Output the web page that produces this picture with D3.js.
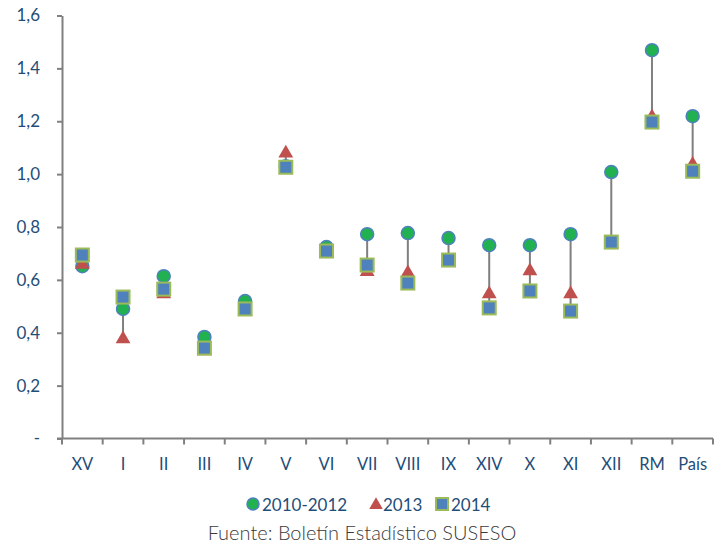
<!DOCTYPE html>
<meta charset="utf-8">
<body style="margin:0;background:#fff">
<script src="https://d3js.org/d3.v7.min.js"></script>
<style>
  body { font-family: Lato, "Open Sans", sans-serif; }
  .axis path, .axis line { stroke: #808080; stroke-width: 2; }
</style>
<div id="chart"></div>
<script>
// data
var regions = ["XV","I","II","III","IV","V","VI","VII","VIII","IX","XIV","X","XI","XII","RM","País"];
var s2010 = [0.652, 0.490, 0.614, 0.384, 0.520, 1.030, 0.724, 0.773, 0.777, 0.758, 0.731, 0.731, 0.773, 1.008, 1.469, 1.219];
var s2013 = [0.662, 0.380, 0.550, 0.335, 0.485, 1.083, 0.710, 0.635, 0.630, 0.675, 0.550, 0.637, 0.550, 0.740, 1.220, 1.040];
var s2014 = [0.694, 0.535, 0.565, 0.342, 0.490, 1.026, 0.709, 0.656, 0.588, 0.675, 0.494, 0.558, 0.482, 0.743, 1.197, 1.011];
var yTicks = [0, 0.2, 0.4, 0.6, 0.8, 1.0, 1.2, 1.4, 1.6];

var W = 722, H = 547;
var margin = {top: 15.5, left: 62, right: 9, bottom: 108.5};
var width = W - margin.left - margin.right,
    height = H - margin.top - margin.bottom;

var svg = d3.select("#chart").append("svg")
    .attr("width", W).attr("height", H)
  .append("g")
    .attr("transform", "translate(" + margin.left + "," + margin.top + ")");

var x = d3.scaleBand().domain(regions).range([0, width]);
var y = d3.scaleLinear().domain([0, 1.6]).range([height, 0]);

var fmt = function(d) { return d === 0 ? "-" : d3.format(".1f")(d).replace(".", ","); };

// y axis
var yAx = svg.append("g").attr("class", "axis")
    .call(d3.axisLeft(y).tickValues(yTicks).tickFormat(fmt).tickSize(5).tickSizeOuter(0));
yAx.selectAll(".tick text")
    .attr("x", -22)
    .attr("fill", "#1f4e79")
    .style("font-family", "Lato, sans-serif")
    .style("font-size", "17px")
    .style("text-anchor", "end");

// x axis with ticks between categories
var xAx = svg.append("g").attr("class", "axis")
    .attr("transform", "translate(0," + height + ")");
xAx.append("line").attr("x1", -5).attr("x2", width).attr("y1", 0).attr("y2", 0)
    .attr("stroke", "#808080").attr("stroke-width", 2);
xAx.selectAll("line.t").data(d3.range(regions.length + 1)).enter().append("line")
    .attr("class", "t")
    .attr("x1", function(i) { return i * x.step(); })
    .attr("x2", function(i) { return i * x.step(); })
    .attr("y1", 0).attr("y2", 6)
    .attr("stroke", "#808080").attr("stroke-width", 2);
xAx.selectAll("text").data(regions).enter().append("text")
    .attr("x", function(d) { return x(d) + x.bandwidth() / 2; })
    .attr("y", 31.5)
    .attr("text-anchor", "middle")
    .attr("fill", "#1f4e79")
    .style("font-size", "16.5px")
    .text(function(d) { return d; });

var cx = function(i) { return x(regions[i]) + x.bandwidth() / 2; };

// high-low lines
svg.selectAll("line.hl").data(regions).enter().append("line")
    .attr("class", "hl")
    .attr("x1", function(d, i) { return cx(i); })
    .attr("x2", function(d, i) { return cx(i); })
    .attr("y1", function(d, i) { return y(Math.max(s2010[i], s2013[i], s2014[i])); })
    .attr("y2", function(d, i) { return y(Math.min(s2010[i], s2013[i], s2014[i])); })
    .attr("stroke", "#7f7f7f").attr("stroke-width", 2);

// 2010-2012 circles
svg.selectAll("circle.a").data(s2010).enter().append("circle")
    .attr("class", "a")
    .attr("cx", function(d, i) { return cx(i); })
    .attr("cy", function(d) { return y(d); })
    .attr("r", 6.5)
    .attr("fill", "#22b150").attr("stroke", "#4f81bd").attr("stroke-width", 1.5);

// 2013 triangles
var tri = d3.symbol().type(d3.symbolTriangle).size(95);
svg.selectAll("path.b").data(s2013).enter().append("path")
    .attr("class", "b")
    .attr("d", tri)
    .attr("transform", function(d, i) { return "translate(" + cx(i) + "," + (y(d) + 1) + ")"; })
    .attr("fill", "#c0504d");

// 2014 squares
svg.selectAll("rect.c").data(s2014).enter().append("rect")
    .attr("class", "c")
    .attr("x", function(d, i) { return cx(i) - 6.5; })
    .attr("y", function(d) { return y(d) - 6.5; })
    .attr("width", 13).attr("height", 13)
    .attr("fill", "#4f81bd").attr("stroke", "#9bbb59").attr("stroke-width", 2);

// legend
var root = d3.select("svg");
var lg = root.append("g").style("font-size", "17px").attr("fill", "#1f4e79");
lg.append("circle").attr("cx", 253).attr("cy", 504).attr("r", 6)
    .attr("fill", "#22b150").attr("stroke", "#4f81bd").attr("stroke-width", 1.5);
lg.append("text").attr("x", 262).attr("y", 511).text("2010-2012");
lg.append("path").attr("d", tri.size(80)).attr("transform", "translate(376,505)").attr("fill", "#c0504d");
lg.append("text").attr("x", 383).attr("y", 511).text("2013");
lg.append("rect").attr("x", 436).attr("y", 498).attr("width", 12).attr("height", 12)
    .attr("fill", "#4f81bd").attr("stroke", "#9bbb59").attr("stroke-width", 2);
lg.append("text").attr("x", 451).attr("y", 511).text("2014");

// source
root.append("text").attr("x", 362).attr("y", 540).attr("text-anchor", "middle")
    .attr("fill", "#3a3a3a").style("font-size", "20px").style("font-weight", 300)
    .text("Fuente: Boletín Estadístico SUSESO");
</script>
</body>
